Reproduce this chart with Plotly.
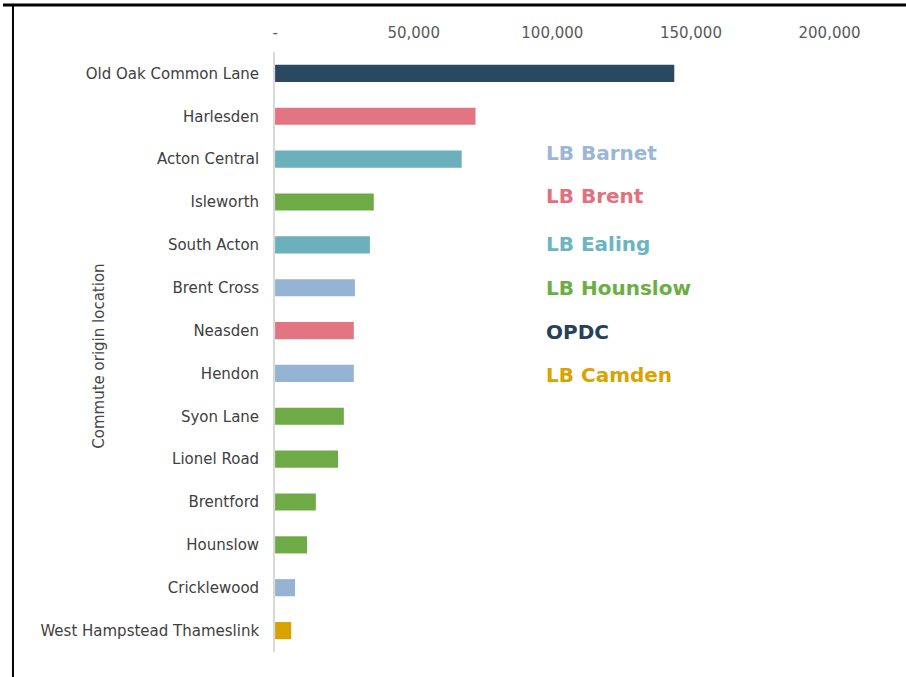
import plotly.graph_objects as go

stations = [
    "Old Oak Common Lane", "Harlesden", "Acton Central", "Isleworth", "South Acton",
    "Brent Cross", "Neasden", "Hendon", "Syon Lane", "Lionel Road", "Brentford",
    "Hounslow", "Cricklewood", "West Hampstead Thameslink",
]
values = [144000, 72300, 67300, 35600, 34200, 28800, 28400, 28400, 24800, 22700,
          14700, 11500, 7200, 5800]
boroughs = ["OPDC", "LB Brent", "LB Ealing", "LB Hounslow", "LB Ealing", "LB Barnet",
            "LB Brent", "LB Barnet", "LB Hounslow", "LB Hounslow", "LB Hounslow",
            "LB Hounslow", "LB Barnet", "LB Camden"]

legend_names = ["LB Barnet", "LB Brent", "LB Ealing", "LB Hounslow", "OPDC", "LB Camden"]
tick_vals = [0, 50000, 100000, 150000, 200000]
tick_text = ["-", "50,000", "100,000", "150,000", "200,000"]
axis_title = "Commute origin location"

bar_colors = {
    "LB Barnet": "#95b3d3",
    "LB Brent": "#e37482",
    "LB Ealing": "#6bb0bc",
    "LB Hounslow": "#6eab46",
    "OPDC": "#2b4861",
    "LB Camden": "#d8a200",
}
text_colors = {
    "LB Barnet": "#9bb7d6",
    "LB Brent": "#e3707e",
    "LB Ealing": "#6bb4c2",
    "LB Hounslow": "#6cae44",
    "OPDC": "#26405b",
    "LB Camden": "#d9a300",
}

W, H = 906, 677

def px_x(x):
    return x / W

def px_y(y):
    return (H - y) / H

fig = go.Figure()
fig.add_trace(go.Bar(
    y=stations,
    x=values,
    orientation="h",
    width=0.4,
    marker=dict(color=[bar_colors[b] for b in boroughs], line=dict(width=0)),
    hoverinfo="x+y",
))

annotations = []
legend_y = [153, 196, 244, 288, 332, 375]
for name, yy in zip(legend_names, legend_y):
    annotations.append(dict(
        text=name, x=px_x(543), y=px_y(yy), xref="paper", yref="paper",
        xanchor="left", yanchor="middle", showarrow=False,
        font=dict(family="DejaVu Sans", size=20, color=text_colors[name], weight="bold"),
    ))
annotations.append(dict(
    text=axis_title, x=px_x(96), y=px_y(356), xref="paper", yref="paper",
    xanchor="center", yanchor="middle", showarrow=False, textangle=-90,
    font=dict(family="DejaVu Sans", size=15, color="#454545"),
))

shapes = [
    dict(type="line", xref="paper", yref="paper", x0=0, x1=1, y0=px_y(5), y1=px_y(5),
         line=dict(color="black", width=3)),
    dict(type="line", xref="paper", yref="paper", x0=px_x(10), x1=px_x(10), y0=px_y(5), y1=0,
         line=dict(color="black", width=2)),
]

fig.update_layout(
    width=W, height=H,
    margin=dict(l=0, r=0, t=0, b=0),
    paper_bgcolor="white", plot_bgcolor="white",
    showlegend=False,
    font=dict(family="DejaVu Sans", size=15, color="#404040"),
    xaxis=dict(
        side="top", range=[0, 215000], domain=[px_x(273), px_x(871)],
        tickvals=tick_vals, ticktext=tick_text,
        showgrid=False, zeroline=False, showline=False, ticks="",
        tickfont=dict(family="DejaVu Sans", size=15, color="#595959"),
        ticklabelstandoff=10,
    ),
    yaxis=dict(
        autorange="reversed", domain=[px_y(652), px_y(52)],
        showgrid=False, zeroline=False, showline=True, linecolor="#d9d9d9", linewidth=2,
        ticks="", tickfont=dict(family="DejaVu Sans", size=15, color="#404040"),
        ticklabelstandoff=11,
    ),
    annotations=annotations,
    shapes=shapes,
)

fig.write_html(
    "out.html",
    config={"displayModeBar": False},
    post_script="document.body.style.margin='0';document.body.style.overflow='hidden';",
)
